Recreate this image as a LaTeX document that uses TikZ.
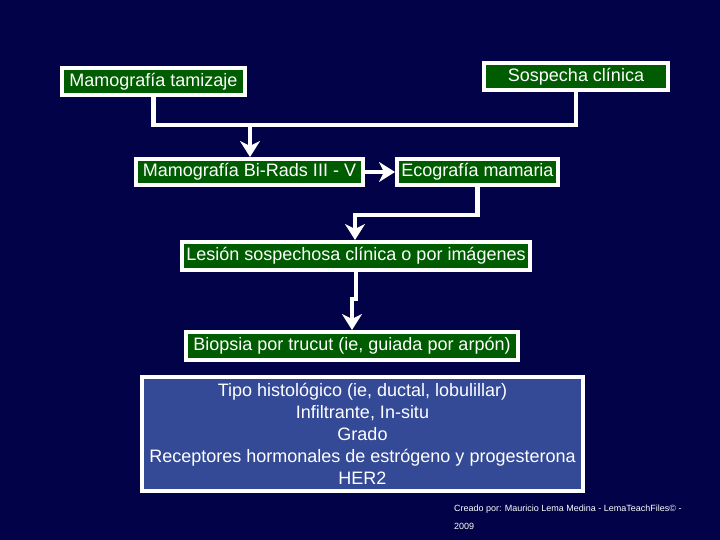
\documentclass[tikz,border=0pt]{standalone}
\usepackage{fontspec}
\setmainfont{Liberation Sans}
\usetikzlibrary{arrows.meta}
\definecolor{fondo}{RGB}{2,2,72}
\definecolor{verde}{RGB}{0,92,0}
\definecolor{azul}{RGB}{52,74,150}
\begin{document}
\begin{tikzpicture}[x=1pt,y=-1pt,line width=4pt,
  caja/.style={draw=white,fill=verde,text=white,inner sep=0pt,
    font=\fontsize{18}{22}\selectfont},
  flujo/.style={draw=white,line width=4.5pt,-{Stealth[length=16pt,width=20pt,inset=5pt]}},
  linea/.style={draw=white,line width=4.5pt}]
  \fill[fondo] (0,0) rectangle (720,540);
  \node[caja,minimum width=183pt,minimum height=27pt] (tamiz) at (153.5,81.5) {Mamografía tamizaje};
  \node[caja,minimum width=184pt,minimum height=27pt] (sospecha) at (576,76.5) {Sospecha clínica};
  \node[caja,minimum width=227pt,minimum height=26pt] (birads) at (249.5,172) {Mamografía Bi-Rads III - V};
  \node[caja,minimum width=161pt,minimum height=26pt] (eco) at (477.5,172) {Ecografía mamaria};
  \node[caja,minimum width=348pt,minimum height=28pt] (lesion) at (356,256) {Lesión sospechosa clínica o por imágenes};
  \node[caja,minimum width=332pt,minimum height=28pt] (biopsia) at (352,346) {Biopsia por trucut (ie, guiada por arpón)};
  \node[caja,fill=azul,minimum width=441pt,minimum height=114pt,align=center] (histo) at (362.5,434)
    {Tipo histológico (ie, ductal, lobulillar)\\Infiltrante, In-situ\\Grado\\
     Receptores hormonales de estrógeno y progesterona\\HER2};
  \coordinate (j1) at (250,125);
  \coordinate (j2) at (355,215);
  \draw[linea] (tamiz.south) |- (j1) -| (sospecha.south);
  \draw[flujo] (j1) -- (j1 |- birads.north);
  \draw[flujo] (birads.east) -- (eco.west);
  \draw[flujo] (eco.south) |- (j2) -- (j2 |- lesion.north);
  \draw[flujo] (lesion.south) |- (356,299) -| (biopsia.north);
  \node[anchor=north west,text=white,inner sep=0pt,align=left,
    font=\fontsize{9}{18}\selectfont] (firma) at (452,503)
    {Creado por: Mauricio Lema Medina - LemaTeachFiles© -\\2009};
\end{tikzpicture}
\end{document}
